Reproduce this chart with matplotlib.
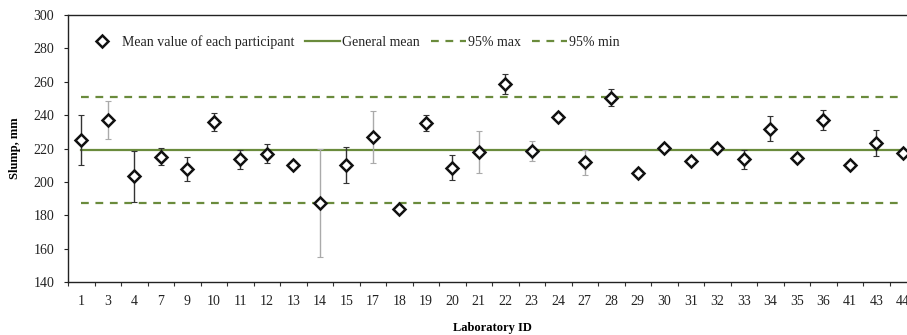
import matplotlib
matplotlib.use('Agg')
import matplotlib.pyplot as plt
import numpy as np

labs = ['1', '3', '4', '7', '9', '10', '11', '12', '13', '14', '15', '17', '18', '19', '20', '21',
        '22', '23', '24', '27', '28', '29', '30', '31', '32', '33', '34', '35', '36', '41', '43', '44']
means = [225.1, 236.9, 203.4, 215.1, 207.6, 235.9, 213.5, 216.9, 210.1, 187.4, 210.1, 226.9, 183.8,
         235.3, 208.5, 217.7, 258.6, 218.5, 238.6, 211.9, 250.4, 205.2, 220.1, 212.7, 220.1, 213.5,
         231.9, 214.1, 236.9, 209.9, 223.5, 217.1]
errs = [15.2, 11.5, 15.3, 5.0, 7.3, 5.2, 5.6, 5.8, 0, 32.5, 10.5, 15.4, 0, 5.0, 7.5, 12.5,
        5.9, 5.9, 0, 7.5, 5.1, 0, 0, 0, 0, 5.6, 7.7, 0, 6.0, 0, 7.7, 0]
general_mean = 219.3
max95 = 251.0
min95 = 187.6
gray_labs = ['3', '14', '17', '21', '23', '27']

plt.rcParams['font.family'] = ['Liberation Serif', 'DejaVu Serif']

fig = plt.figure(figsize=(9.07, 3.35), dpi=100)
ax = fig.add_axes([68 / 907, 1 - 282.3 / 335, (916 - 68) / 907, (282.3 - 14.7) / 335])

x = np.arange(len(labs))
green = '#6A8B3C'

ax.plot(x, [general_mean] * len(x), color=green, lw=1.6, zorder=2, label='General mean')
ax.plot(x, [max95] * len(x), color=green, lw=1.6, ls=(0, (3.5, 3.0)), zorder=2, label='95% max')
ax.plot(x, [min95] * len(x), color=green, lw=1.6, ls=(0, (3.5, 3.0)), zorder=2, label='95% min')

for xi, lab, m, e in zip(x, labs, means, errs):
    if e > 0:
        c = '#AAAAAA' if lab in gray_labs else '#333333'
        ax.errorbar(xi, m, yerr=e, fmt='none', ecolor=c, elinewidth=1.0, capsize=2.2,
                    capthick=0.8, zorder=3)

ax.plot(x, means, ls='none', marker='D', ms=6.5, mfc='white', mec='#111111', mew=1.8,
        zorder=4, label='Mean value of each participant')

ax.set_xlim(-0.5, len(labs) - 0.5)
ax.set_ylim(140, 300)
ax.set_yticks(np.arange(140, 301, 20))
ax.set_xticks(x)
ax.set_xticklabels(labs)
ax.set_xticks(np.arange(-0.5, len(labs) + 0.5, 1), minor=True)
ax.tick_params(axis='x', which='major', length=0, pad=9, labelsize=10, colors='#222222')
ax.tick_params(axis='x', which='minor', length=3, width=0.8, direction='out', color='#333333')
ax.tick_params(axis='y', length=3, width=0.8, direction='out', pad=7, labelsize=10,
               colors='#222222')
for s in ['left', 'bottom', 'top']:
    ax.spines[s].set_color('#222222')
    ax.spines[s].set_linewidth(1.0)
ax.spines['right'].set_visible(False)

ax.set_ylabel('Slump, mm', fontsize=9, fontweight='bold', labelpad=9)
ax.set_xlabel('Laboratory ID', fontsize=9, fontweight='bold', labelpad=10)

handles, labels = ax.get_legend_handles_labels()
order = [3, 0, 1, 2]
leg = fig.legend([handles[i] for i in order], [labels[i] for i in order],
                 loc='center left', bbox_to_anchor=(85 / 907, 1 - 42 / 335), ncol=4,
                 frameon=False, fontsize=10, handlelength=2.5, handletextpad=0.15,
                 columnspacing=0.8, borderpad=0, borderaxespad=0)
for t in leg.get_texts():
    t.set_color('#222222')

fig.savefig('out.png', dpi=100)
